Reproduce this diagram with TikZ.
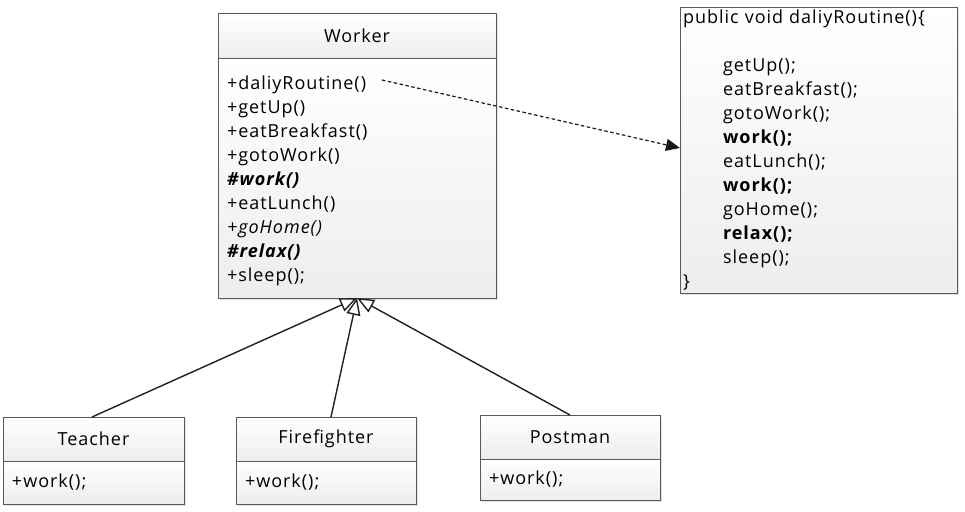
\documentclass[tikz,border=0pt]{standalone}
\usepackage{fontspec}
\setmainfont{Open Sans}[LetterSpace=5.5,WordSpace=0.6]
\usetikzlibrary{positioning,shadows,arrows.meta}

\tikzset{
  umlbox/.style={draw=gray!70!black, line width=0.9pt, inner sep=0pt, outer sep=0pt,
    top color=white, bottom color=gray!14,
    drop shadow={shadow xshift=2pt, shadow yshift=-2pt, fill=gray!45}},
  classhead/.style={umlbox, minimum width=#1, minimum height=44pt},
  classbody/.style={umlbox, minimum width=#1, text width=#1-18pt, align=left},
  inherit/.style={draw=gray!25!black, line width=1.4pt, -{Triangle[open,length=17pt,width=14pt,fill=white]}},
}

\begin{document}
\begin{tikzpicture}[x=1pt,y=-1pt,font=\fontsize{18}{24}\selectfont]
  \useasboundingbox (0,0) rectangle (965,511);

  % Worker class
  \node[classhead=278pt, minimum height=45pt] (worker) at (357,35.5) {Worker};
  \node[classbody=278pt, minimum height=240pt, below=0pt of worker] (workerops) {%
    \rule{0pt}{20pt}+daliyRoutine()\\
    +getUp()\\
    +eatBreakfast()\\
    +gotoWork()\\
    \textbf{\textit{\#work()}}\\
    +eatLunch()\\
    \textit{+goHome()}\\
    \textbf{\textit{\#relax()}}\\
    +sleep();};

  % note with the template method
  \node[umlbox, minimum width=277pt, minimum height=286pt, text width=271pt, align=left,
        anchor=north west] (code) at (680,7) {%
    public void daliyRoutine()\{\\[24pt]
    \hspace*{40pt}getUp();\\
    \hspace*{40pt}eatBreakfast();\\
    \hspace*{40pt}gotoWork();\\
    \hspace*{40pt}\textbf{work();}\\
    \hspace*{40pt}eatLunch();\\
    \hspace*{40pt}\textbf{work();}\\
    \hspace*{40pt}goHome();\\
    \hspace*{40pt}\textbf{relax();}\\
    \hspace*{40pt}sleep();\\
    \}};

  % subclasses
  \node[classhead=181pt] (teacher) at (93.5,439) {Teacher};
  \node[classbody=181pt, minimum height=43pt, below=0pt of teacher] (teacherops) {+work();};
  \node[classhead=180pt] (firefighter) at (326,439) {Firefighter};
  \node[classbody=180pt, minimum height=43pt, below=0pt of firefighter] (firefighterops) {+work();};
  \node[classhead=180pt] (postman) at (570,437) {Postman};
  \node[classbody=180pt, minimum height=41pt, below=0pt of postman] (postmanops) {+work();};

  % template call
  \coordinate (callstart) at (382,80);
  \draw[gray!20!black, line width=1.2pt, dash pattern=on 3.5pt off 2.5pt,
        -{Triangle[length=14pt,width=12pt]}] (callstart) -- (code.west |- 0,148);

  % generalisation
  \draw[inherit] (teacher.north -| 92,0) -- (workerops.south);
  \draw[inherit] (firefighter.north -| 331,0) -- (workerops.south);
  \draw[inherit] (postman.north) -- (workerops.south);
\end{tikzpicture}
\end{document}
